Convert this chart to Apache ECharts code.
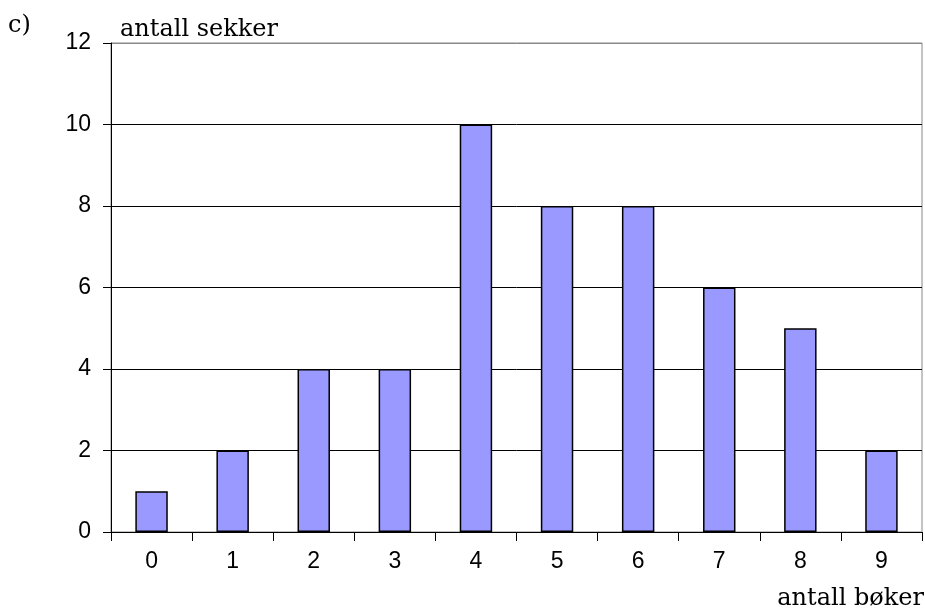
<!DOCTYPE html>
<html>
<head>
<meta charset="utf-8">
<script src="https://cdn.jsdelivr.net/npm/echarts@6/dist/echarts.min.js"></script>
<style>
html,body{margin:0;padding:0;background:#fff;}
#chart{width:925px;height:611px;}
</style>
</head>
<body>
<div id="chart"></div>
<script>
var categories = ['0','1','2','3','4','5','6','7','8','9'];
var values = [1, 2, 4, 4, 10, 8, 8, 6, 5, 2];
var yTicks = [0, 2, 4, 6, 8, 10, 12];
var yTitle = 'antall sekker';
var xTitle = 'antall bøker';
var partLabel = 'c)';

var chart = echarts.init(document.getElementById('chart'));
var serif = '"DejaVu Serif", "Liberation Serif", serif';
var sans = '"Liberation Sans", Arial, sans-serif';
chart.setOption({
  animation: false,
  backgroundColor: '#fff',
  grid: {left: 111, right: 3, top: 43, bottom: 79, show: true, borderColor: '#888', borderWidth: 1, backgroundColor: 'transparent'},
  xAxis: {
    type: 'category',
    data: categories,
    boundaryGap: true,
    axisLine: {show: true, lineStyle: {color: '#000', width: 1}},
    axisTick: {show: true, length: 9, lineStyle: {color: '#000', width: 1}},
    axisLabel: {color: '#000', fontFamily: sans, fontSize: 23, margin: 18},
    splitLine: {show: false}
  },
  yAxis: {
    type: 'value',
    min: yTicks[0],
    max: yTicks[yTicks.length - 1],
    interval: 2,
    axisLine: {show: true, lineStyle: {color: '#000', width: 1}},
    axisTick: {show: true, length: 8, lineStyle: {color: '#000', width: 1}},
    axisLabel: {color: '#000', fontFamily: sans, fontSize: 23, margin: 20},
    splitLine: {show: true, lineStyle: {color: ['#000','#000','#000','#000','#000','#000','#888'], width: 1}}
  },
  series: [{
    type: 'bar',
    data: values,
    barWidth: '40%',
    itemStyle: {color: '#9999FF', borderColor: '#000', borderWidth: 1.5}
  }],
  graphic: [
    {type: 'text', x: 8, y: 26, style: {text: partLabel, font: '24px ' + serif, fill: '#000', verticalAlign: 'middle'}},
    {type: 'text', x: 120, y: 30, style: {text: yTitle, font: '24px ' + serif, fill: '#000', verticalAlign: 'middle'}},
    {type: 'text', x: 924, y: 599, style: {text: xTitle, font: '24px ' + serif, fill: '#000', align: 'right', verticalAlign: 'middle'}}
  ]
});
</script>
</body>
</html>
